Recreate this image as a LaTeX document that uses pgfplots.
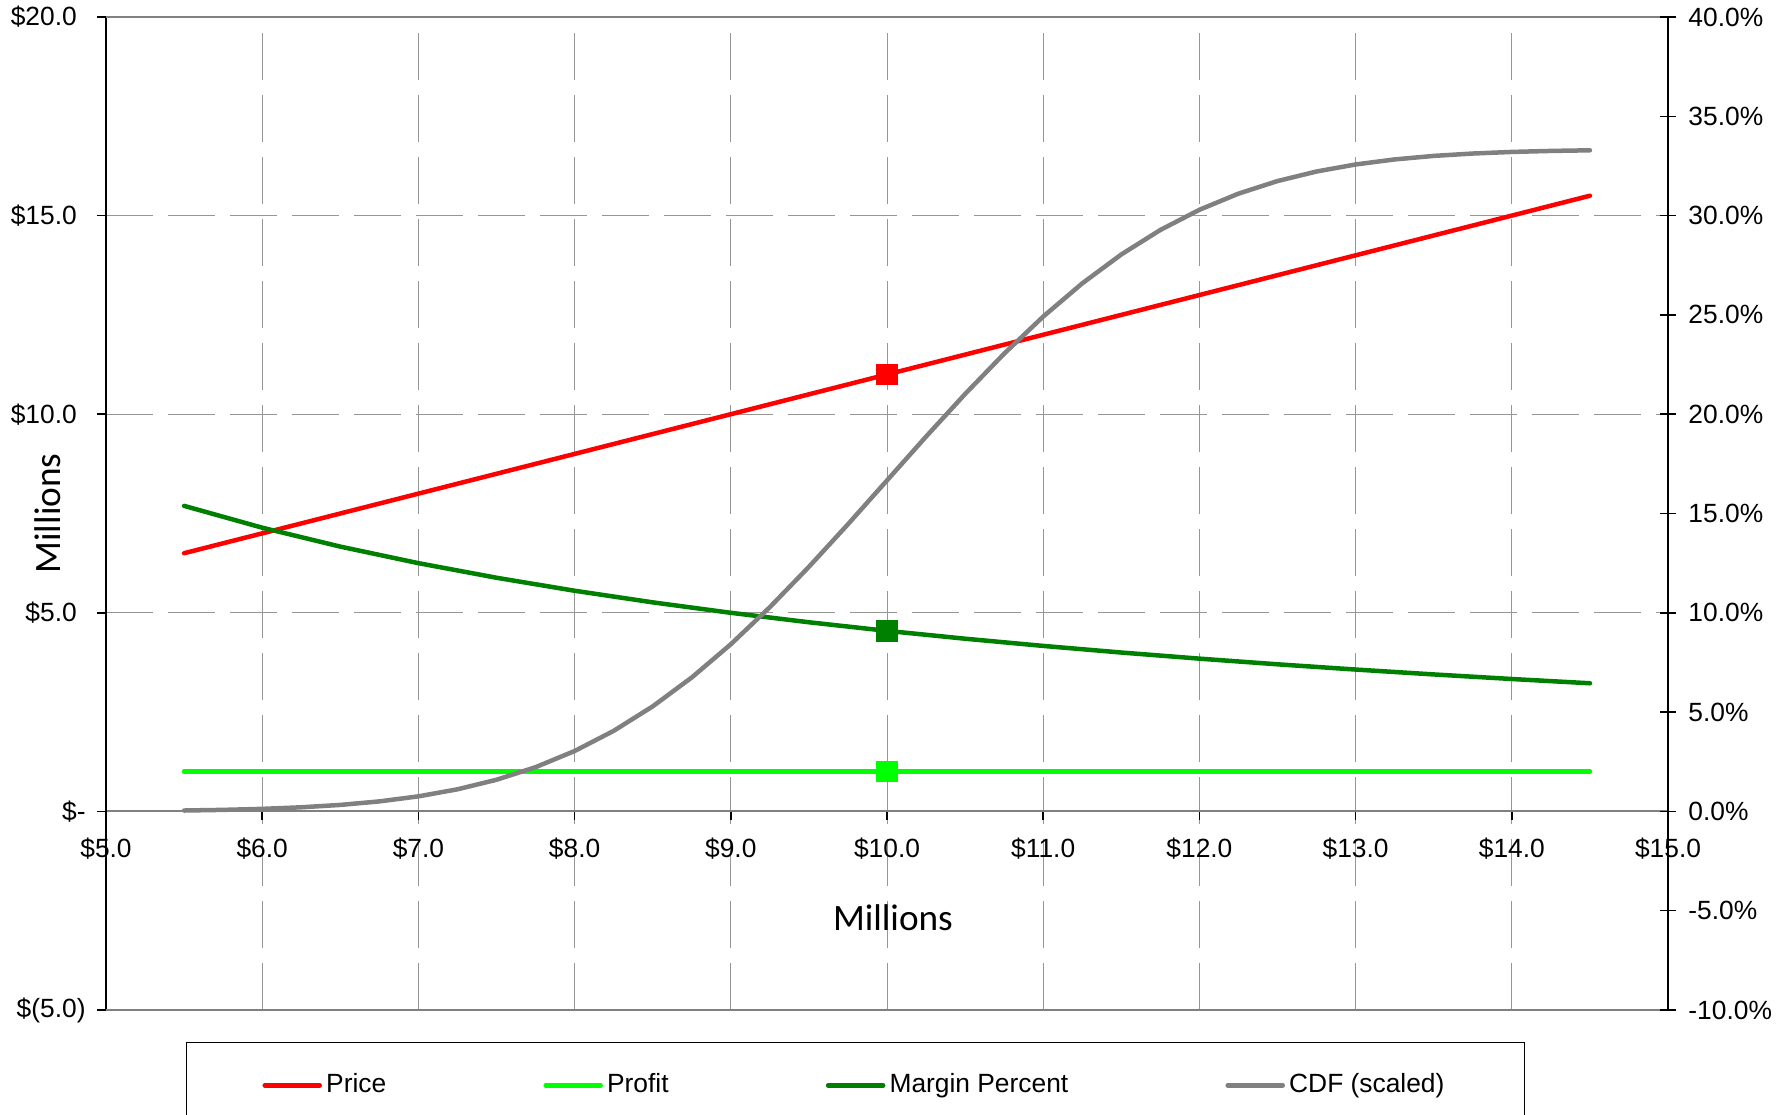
\documentclass[border=0pt]{standalone}
\usepackage{pgfplots}
\pgfplotsset{compat=1.18}
\usepackage{fontspec}
\setmainfont{Liberation Sans}
\newfontfamily\labelfont{Carlito}

\definecolor{priceRed}{RGB}{255,0,0}
\definecolor{profitGreen}{RGB}{0,255,0}
\definecolor{marginGreen}{RGB}{0,128,0}
\definecolor{cdfGray}{RGB}{128,128,128}
\definecolor{gridGray}{RGB}{150,150,150}
\definecolor{frameGray}{RGB}{128,128,128}

\pgfplotsset{
  chartbase/.style={
    at={(10.6mm,10.4mm)}, anchor=south west,
    scale only axis, width=156.2mm, height=99.3mm,
    xmin=5, xmax=15,
    font=\fontsize{7.5pt}{9pt}\selectfont,
    tick style={black, line width=0.15mm},
  },
  noarrows/.style={
    axis line style={-},
    every inner x axis line/.append style={-},
    every outer x axis line/.append style={-},
    every inner y axis line/.append style={-},
    every outer y axis line/.append style={-},
  },
  series/.style={line width=0.45mm, line cap=round, line join=round, mark=none},
  pricestyle/.style={series, priceRed},
  profitstyle/.style={series, profitGreen},
  marginstyle/.style={series, marginGreen},
  cdfstyle/.style={series, cdfGray},
}

\begin{document}
\begin{tikzpicture}[x=1mm,y=1mm]
\useasboundingbox (0,0) rectangle (178.8,111.4);
\clip (0,0) rectangle (178.8,111.4);

% Left axis: dollar amounts in millions
\begin{axis}[chartbase,
  ymin=-5, ymax=20,
  axis x line=middle, axis y line=left,
  noarrows,
  x axis line style={-, draw=frameGray, line width=0.2mm},
  y axis line style={-, draw=black, line width=0.2mm},
  hide obscured x ticks=false,
  xtick={5,6,7,8,9,10,11,12,13,14,15},
  xticklabels={\$5.0,\$6.0,\$7.0,\$8.0,\$9.0,\$10.0,\$11.0,\$12.0,\$13.0,\$14.0,\$15.0},
  x tick label style={yshift=-0.5mm},
  ytick={-5,0,5,10,15,20},
  yticklabels={\$(5.0),\$-\hspace{3.8mm},\$5.0\hphantom{)},\$10.0\hphantom{)},\$15.0\hphantom{)},\$20.0\hphantom{)}},
  y tick label style={xshift=0.1mm},
  xtick align=outside, ytick align=outside, major tick length=0.9mm,
  grid=major,
  grid style={gridGray, line width=0.1mm, dash pattern=on 4.7mm off 1.5mm},
  xlabel={Millions}, ylabel={Millions},
  every axis x label/.style={at={(axis description cs:0.5038,0.0927)}, anchor=center,
    font=\labelfont\fontsize{10.6pt}{12pt}\selectfont},
  every axis y label/.style={at={(axis description cs:-0.0371,0.5)}, anchor=center, rotate=90,
    font=\labelfont\fontsize{10.6pt}{12pt}\selectfont},
]
  \draw[frameGray, line width=0.2mm] (rel axis cs:0,1) -- (rel axis cs:1,1);
  \draw[frameGray, line width=0.2mm] (rel axis cs:0,0) -- (rel axis cs:1,0);

  % Price
  \addplot[pricestyle] coordinates {
    (5.5,6.5) (6.0,7.0) (6.5,7.5) (7.0,8.0) (7.5,8.5) (8.0,9.0) (8.5,9.5)
    (9.0,10.0) (9.5,10.5) (10.0,11.0) (10.5,11.5) (11.0,12.0) (11.5,12.5)
    (12.0,13.0) (12.5,13.5) (13.0,14.0) (13.5,14.5) (14.0,15.0) (14.5,15.5)
  };
  \addplot[only marks, mark=square*, mark size=1mm, priceRed] coordinates {(10,11)};

  % Profit
  \addplot[profitstyle] coordinates {
    (5.5,1.0) (6.5,1.0) (7.5,1.0) (8.5,1.0) (9.5,1.0) (10.0,1.0)
    (10.5,1.0) (11.5,1.0) (12.5,1.0) (13.5,1.0) (14.5,1.0)
  };
  \addplot[only marks, mark=square*, mark size=1mm, profitGreen] coordinates {(10,1)};
\end{axis}

% Right axis: percentages
\begin{axis}[chartbase,
  ymin=-10, ymax=40,
  axis x line=none, axis y line=right,
  noarrows,
  y axis line style={-, draw=black, line width=0.2mm},
  ytick={-10,-5,0,5,10,15,20,25,30,35,40},
  yticklabels={-10.0\%,-5.0\%,0.0\%,5.0\%,10.0\%,15.0\%,20.0\%,25.0\%,30.0\%,35.0\%,40.0\%},
  ytick align=center, major tick length=1.6mm,
  legend columns=4,
  legend image code/.code={\draw[#1] (0mm,0mm) -- (5.5mm,0mm);},
  legend style={
    at={(axis description cs:0.0512,-0.0322)}, anchor=north west,
    draw=black, line width=0.1mm,
    inner xsep=7.6mm, inner ysep=2.65mm,
    nodes={inner sep=0.42mm},
    /tikz/every even column/.append style={column sep=15.3mm},
  },
]
  \addlegendimage{pricestyle}
  \addlegendentry{Price}
  \addlegendimage{profitstyle}
  \addlegendentry{Profit}

  % Margin percent
  \addplot[marginstyle] coordinates {
    (5.5,15.385) (6.0,14.286) (6.5,13.333) (7.0,12.500) (7.5,11.765)
    (8.0,11.111) (8.5,10.526) (9.0,10.000) (9.5,9.524) (10.0,9.091)
    (10.5,8.696) (11.0,8.333) (11.5,8.000) (12.0,7.692) (12.5,7.407)
    (13.0,7.143) (13.5,6.897) (14.0,6.667) (14.5,6.452)
  };
  \addlegendentry{Margin Percent}
  \addplot[only marks, mark=square*, mark size=1mm, marginGreen, forget plot] coordinates {(10,9.091)};

  % Scaled cumulative distribution
  \addplot[cdfstyle] coordinates {
    (5.50,0.045) (5.75,0.077) (6.00,0.128) (6.25,0.207) (6.50,0.327)
    (6.75,0.504) (7.00,0.758) (7.25,1.113) (7.50,1.593) (7.75,2.227)
    (8.00,3.040) (8.25,4.056) (8.50,5.289) (8.75,6.744) (9.00,8.416)
    (9.25,10.285) (9.50,12.315) (9.75,14.460) (10.00,16.667) (10.25,18.873)
    (10.50,21.019) (10.75,23.049) (11.00,24.917) (11.25,26.589) (11.50,28.045)
    (11.75,29.278) (12.00,30.293) (12.25,31.106) (12.50,31.740) (12.75,32.221)
    (13.00,32.575) (13.25,32.829) (13.50,33.006) (13.75,33.126) (14.00,33.206)
    (14.25,33.257) (14.50,33.288)
  };
  \addlegendentry{CDF (scaled)}
\end{axis}
\end{tikzpicture}
\end{document}
